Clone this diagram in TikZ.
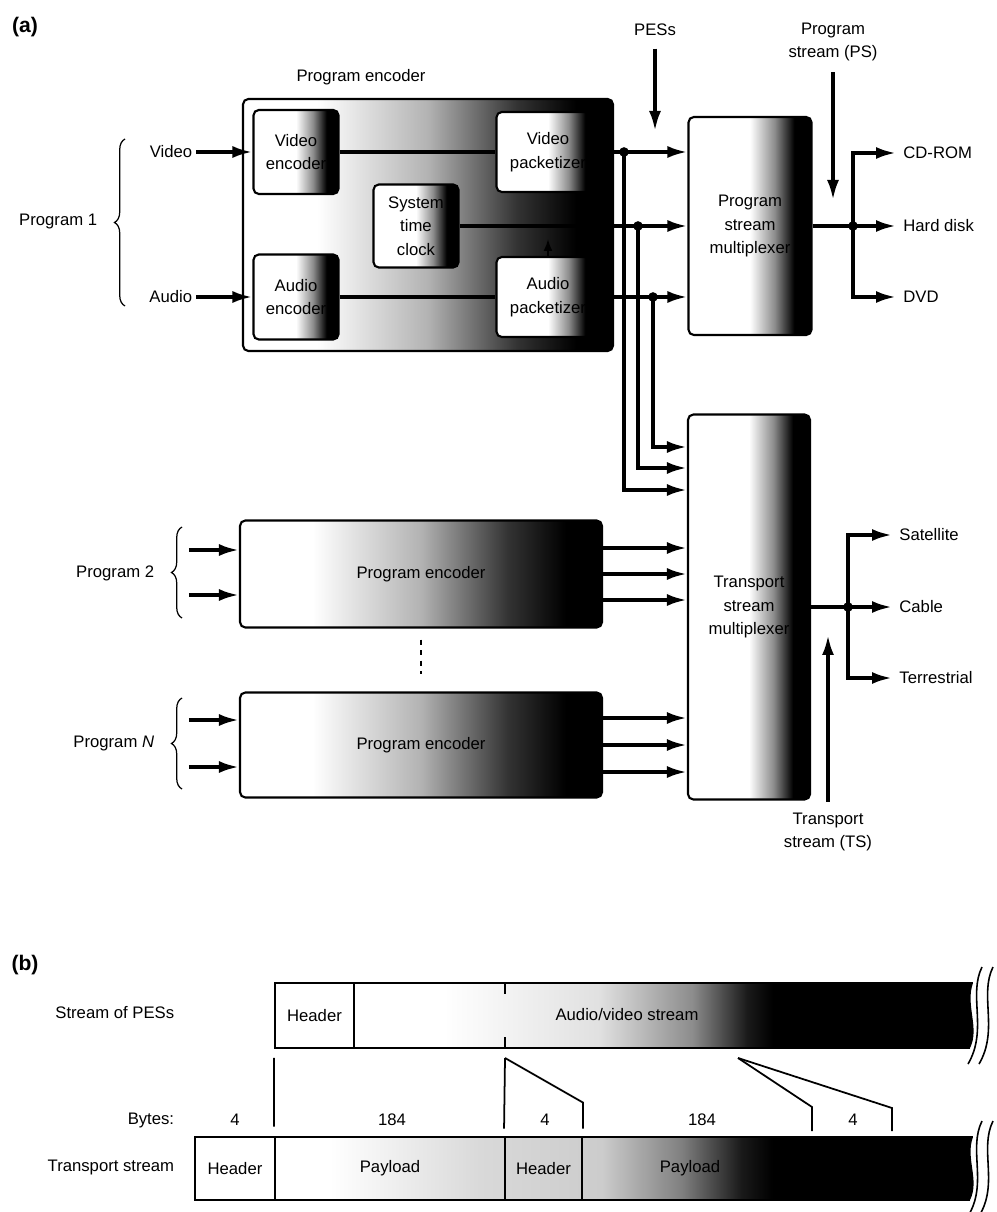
\documentclass[tikz,border=0pt]{standalone}
\usepackage{fontspec}
\setmainfont{Liberation Sans}
\usetikzlibrary{positioning,calc,arrows.meta,decorations.pathreplacing}

% white on the left, dark on the right
\pgfdeclarehorizontalshading{boxfade}{100bp}{color(0bp)=(white); color(25bp)=(white); color(50bp)=(white); color(60bp)=(black!45); color(68bp)=(black); color(100bp)=(black)}
\pgfdeclarehorizontalshading{bigfade}{100bp}{color(0bp)=(white); color(25bp)=(white); color(35bp)=(white); color(50bp)=(black!30); color(62bp)=(black!80); color(70bp)=(black); color(100bp)=(black)}
\pgfdeclarehorizontalshading{pesfade}{100bp}{color(0bp)=(white); color(25bp)=(white); color(37bp)=(white); color(48bp)=(black!12); color(54.6bp)=(black!45); color(58.5bp)=(black!90); color(60.3bp)=(black); color(100bp)=(black)}
\pgfdeclarehorizontalshading{tsfade}{100bp}{color(0bp)=(white); color(25bp)=(white); color(33.6bp)=(white); color(43.2bp)=(black!15); color(50.9bp)=(black!20); color(56bp)=(black!50); color(59.8bp)=(black!90); color(61.8bp)=(black); color(100bp)=(black)}

\begin{document}
\begin{tikzpicture}[
    x=0.02cm, y=-0.02cm,
    font=\fontsize{9.5}{13.5}\selectfont,
    box/.style={
        rectangle,
        draw,
        line width=1.2pt,
        rounded corners=3pt,
        align=center,
        inner sep=2pt
    },
    fadebox/.style={box, shade, shading=boxfade},
    bigbox/.style={box, shade, shading=bigfade},
    cell/.style={rectangle, draw, line width=1.1pt, minimum height=1.28cm, inner sep=1pt},
    arrow/.style={-{Latex[length=4mm,width=2.4mm]}, line width=2pt},
    link/.style={line width=2pt},
    dot/.style={circle, fill, inner sep=0pt, minimum size=5.5pt},
    lbl/.style={inner sep=2pt, align=center},
    brc/.style={decorate, decoration={brace, amplitude=6pt}, line width=0.7pt},
    tear/.style={line width=0.9pt}
]
\useasboundingbox (0,0) rectangle (996,1212);

% ---------- (a) ----------
\node[font=\bfseries\large] (taga) at (25,27) {(a)};

\node[bigbox, minimum width=7.4cm, minimum height=5.04cm] (penc) at (428,225) {};
\node[lbl] (pencl) at (361,77) {Program encoder};

\node[fadebox, minimum width=1.7cm, minimum height=1.68cm] (venc) at (296,152) {Video\\encoder};
\node[fadebox, minimum width=1.7cm, minimum height=1.7cm] (aenc) at (296,297) {Audio\\encoder};
\node[fadebox, minimum width=1.7cm, minimum height=1.66cm] (stc) at (416,226) {System\\time\\clock};
\node[fadebox, minimum width=2.06cm, minimum height=1.6cm] (vpkt) at (548,152) {Video\\packetizer};
\node[fadebox, minimum width=2.06cm, minimum height=1.6cm] (apkt) at (548,297) {Audio\\packetizer};

\node[fadebox, minimum width=2.46cm, minimum height=4.36cm] (psmux) at (750,226) {Program\\stream\\multiplexer};
\node[fadebox, minimum width=2.44cm, minimum height=7.7cm] (tsmux) at (749,607) {Transport\\stream\\multiplexer};

\node[bigbox, minimum width=7.24cm, minimum height=2.14cm] (penc2) at (421,574) {Program encoder};
\node[bigbox, minimum width=7.24cm, minimum height=2.1cm] (pencN) at (421,745) {Program encoder};

% program 1 inputs
\node[lbl, anchor=east] (vin) at (196,152) {Video};
\node[lbl, anchor=east] (ain) at (196,297) {Audio};
\node[lbl, anchor=east] (prog1) at (101,221) {Program 1};
\draw[brc] (125,306) -- (125,139);
\draw[arrow] (vin.east) -- (venc.west);
\draw[arrow] (ain.east) -- (aenc.west);

% inside the encoder
\draw[link] (venc.east) -- (vpkt.west);
\draw[link] (aenc.east) -- (apkt.west);
\draw[-{Latex[length=2.4mm,width=1.8mm]}, line width=1.2pt] (apkt.north) -- ++(0,-17);

% PESs
\draw[arrow] (vpkt.east) -- (vpkt.east -| psmux.west);
\draw[arrow] (stc.east) -- (stc.east -| psmux.west);
\draw[arrow] (apkt.east) -- (apkt.east -| psmux.west);

\coordinate (jv) at (624,152);
\coordinate (jc) at (638,226);
\coordinate (ja) at (653,297);
\draw[arrow] (jv) |- (tsmux.west |- 0,490);
\draw[arrow] (jc) |- (tsmux.west |- 0,468);
\draw[arrow] (ja) |- (tsmux.west |- 0,447);
\node[dot] (jvd) at (jv) {};
\node[dot] (jcd) at (jc) {};
\node[dot] (jad) at (ja) {};

\node[lbl] (pes) at (655,30) {PESs};
\draw[arrow, shorten <=5pt] (pes.south) -- (pes.south |- 0,131);

% program stream out
\node[lbl] (psl) at (833,42) {Program\\stream (PS)};
\draw[arrow, shorten <=4pt] (psl.south) -- (psl.south |- 0,200);

\node[lbl, anchor=west, inner sep=4pt] (cdrom) at (896,153) {CD-ROM};
\node[lbl, anchor=west, inner sep=4pt] (hdd) at (896,226) {Hard disk};
\node[lbl, anchor=west, inner sep=4pt] (dvd) at (896,297) {DVD};
\coordinate (jps) at (853,226);
\draw[link] (psmux.east) -- (jps);
\draw[arrow] (jps) |- (cdrom.west);
\draw[arrow] (jps) -- (hdd.west);
\draw[arrow] (jps) |- (dvd.west);
\node[dot] (jpsd) at (jps) {};

% programs 2 .. N
\node[lbl, anchor=east] (prog2) at (158,573) {Program 2};
\node[lbl, anchor=east] (progN) at (158,743) {Program \textit{N}};
\draw[brc] (182,618) -- (182,527);
\draw[brc] (182,789) -- (182,698);
\foreach \y in {550,595}
    \draw[arrow] ($(penc2.west |- 0,\y)+(-50,0)$) -- (penc2.west |- 0,\y);
\foreach \y in {720,767}
    \draw[arrow] ($(pencN.west |- 0,\y)+(-50,0)$) -- (pencN.west |- 0,\y);
\foreach \y in {548,574,600}
    \draw[arrow] (penc2.east |- 0,\y) -- (tsmux.west |- 0,\y);
\foreach \y in {718,745,772}
    \draw[arrow] (pencN.east |- 0,\y) -- (tsmux.west |- 0,\y);
\draw[dashed, line width=0.8pt] ($(penc2.south)+(0,11)$) -- ($(pencN.north)+(0,-17)$);

% transport stream out
\node[lbl, anchor=west, inner sep=4pt] (sat) at (892,535) {Satellite};
\node[lbl, anchor=west, inner sep=4pt] (cab) at (892,607) {Cable};
\node[lbl, anchor=west, inner sep=4pt] (ter) at (892,678) {Terrestrial};
\coordinate (jts) at (848,607);
\draw[link] (tsmux.east) -- (jts);
\draw[arrow] (jts) |- (sat.west);
\draw[arrow] (jts) -- (cab.west);
\draw[arrow] (jts) |- (ter.west);
\node[dot] (jtsd) at (jts) {};

\node[lbl] (tsl) at (828,832) {Transport\\stream (TS)};
\draw[arrow, shorten <=4pt] (tsl.north) -- (tsl.north |- 0,635);

% ---------- (b) ----------
\node[font=\bfseries\large] (tagb) at (25,965) {(b)};
\node[lbl, anchor=east] (pesrow) at (178,1013) {Stream of PESs};
\node[lbl, anchor=east] (bytes) at (178,1120) {Bytes:};
\node[lbl, anchor=east] (tsrow) at (178,1167) {Transport stream};

% stream of PESs
\shade[shading=pesfade] (275,983) -- (973,983) .. controls (965,1005) and (980,1028) .. (970,1048) -- (275,1048) -- cycle;
\draw[line width=1.1pt] (970,1048) -- (275,1048) -- (275,983) -- (973,983);
\node[cell, minimum width=1.58cm, minimum height=1.3cm] (pesh) at (314.5,1015.5) {Header};
\node[lbl] (avs) at (627,1015) {Audio/video stream};
\draw[line width=1pt] (505,983) -- (505,994);
\draw[line width=1pt] (505,1037) -- (505,1048);
\draw[tear] (982,967) .. controls (968,995) and (988,1030) .. (968,1064);
\draw[tear] (993,967) .. controls (979,995) and (999,1030) .. (979,1064);

% transport stream
\shade[shading=tsfade] (195,1137) -- (973,1137) .. controls (965,1158) and (980,1180) .. (970,1200) -- (195,1200) -- cycle;
\draw[line width=1.1pt] (970,1200) -- (195,1200) -- (195,1137) -- (973,1137);
\node[cell, minimum width=1.6cm] (tsh1) at (235,1168.5) {Header};
\node[cell, minimum width=4.6cm] (tsp1) at (390,1168.5) {Payload};
\node[cell, minimum width=1.54cm] (tsh2) at (543.5,1168.5) {Header};
\node[lbl] (tsp2) at (690,1168.5) {Payload};
\draw[tear] (982,1121) .. controls (968,1149) and (988,1184) .. (968,1216);
\draw[tear] (993,1121) .. controls (979,1149) and (999,1184) .. (979,1216);

% packet boundaries
\node[lbl] (by1) at (235,1120) {4};
\node[lbl] (by2) at (392,1120) {184};
\node[lbl] (by3) at (545,1120) {4};
\node[lbl] (by4) at (702,1120) {184};
\node[lbl] (by5) at (853,1120) {4};

\draw[line width=1pt] ($(pesh.south west)+(0,9)$) -- ($(tsp1.north west)+(0,-9)$);
\coordinate (cut1) at (505,1058);
\draw[line width=1pt] (cut1) -- ($(tsh2.north west)+(0,-7)$);
\draw[line width=1pt] (cut1) -- ($(tsh2.north east)+(0,-33)$) -- ($(tsh2.north east)+(0,-7)$);
\coordinate (cut2) at (738,1058);
\coordinate (h3l) at (812,1131);
\coordinate (h3r) at (892,1131);
\draw[line width=1pt] (cut2) -- (h3l |- 0,1107) -- (h3l);
\draw[line width=1pt] (cut2) -- (h3r |- 0,1108) -- (h3r);

\end{tikzpicture}
\end{document}
